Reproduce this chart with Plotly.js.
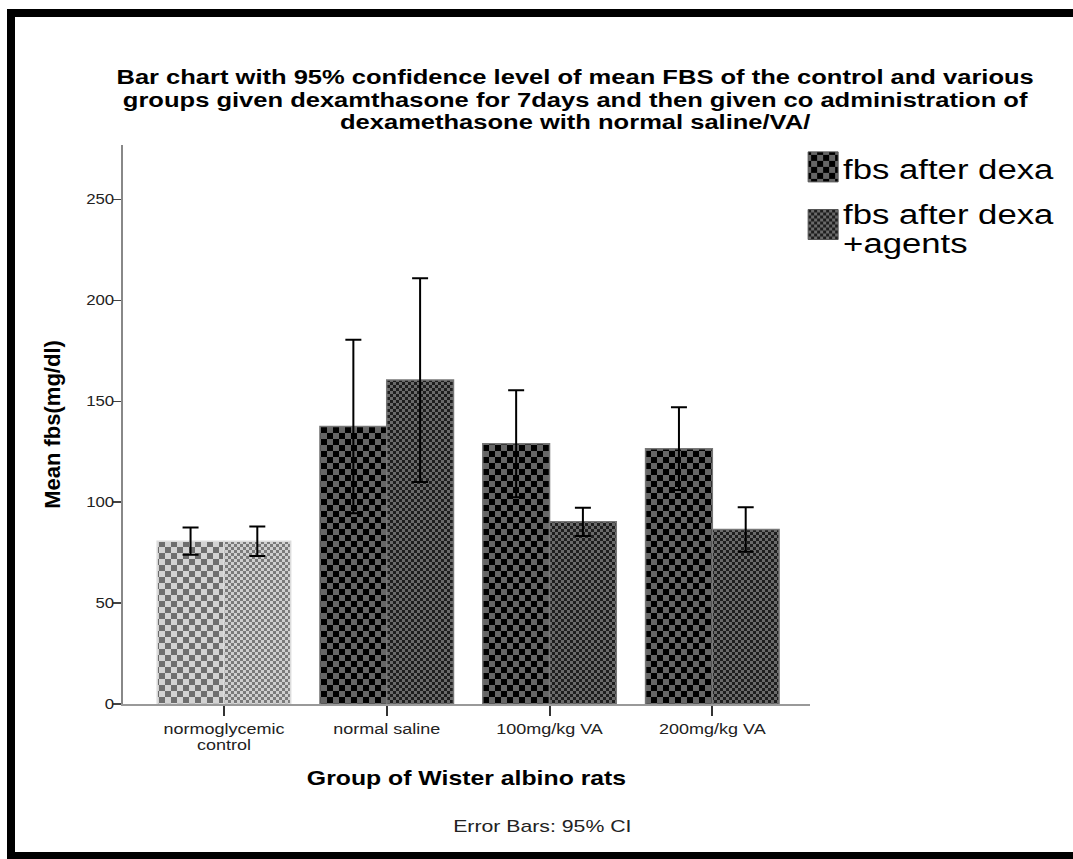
<!DOCTYPE html>
<html>
<head>
<meta charset="utf-8">
<script src="https://cdn.plot.ly/plotly-3.0.1.min.js"></script>
<style>
  html, body { margin: 0; padding: 0; background: #fff; }
  #wrap { position: relative; width: 1073px; height: 859px; overflow: hidden; }
  #chart { position: absolute; left: 0; top: 0; width: 1073px; height: 859px; }
  .frame { position: absolute; background: #000; }
</style>
</head>
<body>
<svg width="0" height="0" style="position:absolute">
  <defs>
    <pattern id="chkDark" patternUnits="userSpaceOnUse" width="12" height="12">
      <rect width="12" height="12" fill="#666"/>
      <rect x="0" y="0" width="6" height="6" fill="#000"/>
      <rect x="6" y="6" width="6" height="6" fill="#000"/>
    </pattern>
    <pattern id="chkDarkFine" patternUnits="userSpaceOnUse" width="6" height="6">
      <rect width="6" height="6" fill="#6a6a6a"/>
      <rect x="0" y="0" width="3" height="3" fill="#1e1e1e"/>
      <rect x="3" y="3" width="3" height="3" fill="#1e1e1e"/>
    </pattern>
    <pattern id="chkLight" patternUnits="userSpaceOnUse" width="12" height="12">
      <rect width="12" height="12" fill="#d2d2d2"/>
      <rect x="0" y="0" width="6" height="6" fill="#6e6e6e"/>
      <rect x="6" y="6" width="6" height="6" fill="#6e6e6e"/>
    </pattern>
    <pattern id="chkLightFine" patternUnits="userSpaceOnUse" width="6" height="6">
      <rect width="6" height="6" fill="#cfcfcf"/>
      <rect x="0" y="0" width="3" height="3" fill="#7a7a7a"/>
      <rect x="3" y="3" width="3" height="3" fill="#7a7a7a"/>
    </pattern>
  </defs>
</svg>
<div id="wrap">
  <div id="chart"></div>
  <div class="frame" style="left:7px; top:9px; width:1066px; height:8px;"></div>
  <div class="frame" style="left:7px; top:9px; width:8px; height:850px;"></div>
  <div class="frame" style="left:7px; top:852px; width:1066px; height:7px;"></div>
</div>
<script>
// ---- data ----
const categories = ['normoglycemic<br>control', 'normal saline', '100mg/kg VA', '200mg/kg VA'];
const seriesNames = ['fbs after dexa', 'fbs after dexa<br>+agents'];
const fbsAfterDexa = [80.7, 137.5, 129.0, 126.5];
const fbsAfterDexaCI = [6.7, 43.0, 26.5, 20.5];
const fbsAfterDexaAgents = [80.6, 160.5, 90.3, 86.5];
const fbsAfterDexaAgentsCI = [7.3, 50.5, 7.0, 11.0];
const yTickVals = [0, 50, 100, 150, 200, 250];

const FONT = 'Liberation Sans, Arial, sans-serif';

const traceDexa = {
  type: 'bar', name: seriesNames[0], x: categories, y: fbsAfterDexa,
  marker: { color: ['#b5b5b5', '#333', '#333', '#333'],
            line: { color: ['#dcdcdc', '#777', '#777', '#777'], width: 1.5 } },
  error_y: { type: 'data', array: fbsAfterDexaCI, visible: true, color: '#000', thickness: 2, width: 8 },
  hoverinfo: 'skip'
};
const traceAgents = {
  type: 'bar', name: seriesNames[1], x: categories, y: fbsAfterDexaAgents,
  marker: { color: ['#a5a5a5', '#444', '#444', '#444'],
            line: { color: ['#dcdcdc', '#777', '#777', '#777'], width: 1.5 } },
  error_y: { type: 'data', array: fbsAfterDexaAgentsCI, visible: true, color: '#000', thickness: 2, width: 8 },
  hoverinfo: 'skip'
};

const layout = {
  width: 1073, height: 859,
  margin: { l: 123, r: 263, t: 145, b: 155 },
  paper_bgcolor: 'rgba(0,0,0,0)', plot_bgcolor: 'rgba(0,0,0,0)',
  barmode: 'group', bargap: 0.18, bargroupgap: 0,
  font: { family: FONT, color: '#222' },
  title: {
    text: 'Bar chart with 95% confidence level of mean FBS of the control and various<br>groups given dexamthasone for 7days and then given co administration of<br>dexamethasone with normal saline/VA/',
    font: { family: FONT, size: 21, color: '#000', weight: 'bold' },
    x: 0.536, xanchor: 'center', xref: 'container',
    y: 0.902, yanchor: 'top', yref: 'container'
  },
  xaxis: {
    type: 'category', range: [-0.62, 3.6],
    showline: true, linecolor: '#999', linewidth: 2,
    ticks: 'outside', ticklen: 10, tickwidth: 2, tickcolor: '#333',
    tickfont: { family: FONT, size: 15, color: '#222' },
    showgrid: false, zeroline: false,
    title: { text: 'Group of Wister albino rats', font: { family: FONT, size: 20, color: '#000', weight: 'bold' }, standoff: 16 }
  },
  yaxis: {
    range: [0, 277], tickvals: yTickVals,
    showline: true, linecolor: '#888', linewidth: 2,
    ticks: 'outside', ticklen: 8, tickwidth: 1.5, tickcolor: '#444',
    tickfont: { family: FONT, size: 14, color: '#222' },
    ticklabelstandoff: -4,
    showgrid: false, zeroline: false,
    title: { text: 'Mean fbs(mg/dl)', font: { family: FONT, size: 22, color: '#000', weight: 'bold' }, standoff: 24 }
  },
  legend: {
    x: 0.99, xanchor: 'left', y: 1.005, yanchor: 'top',
    font: { family: FONT, size: 28, color: '#000' },
    bgcolor: 'rgba(0,0,0,0)', tracegroupgap: 0
  },
  showlegend: true,
  annotations: [{
    text: 'Error Bars: 95% CI', xref: 'paper', yref: 'paper',
    x: 0.61, y: -0.22, xanchor: 'center', yanchor: 'middle', showarrow: false,
    font: { family: FONT, size: 17, color: '#222' }
  }]
};

function stretchText(el, s, dy) {
  if (!el) return;
  const x = parseFloat(el.getAttribute('x') || '0');
  const prev = el.getAttribute('transform') || '';
  el.setAttribute('transform', prev + ' translate(' + x + ',' + (dy || 0) + ') scale(' + s + ',1) translate(' + (-x) + ',0)');
}
function compressLines(el, factor) {
  if (!el) return;
  el.querySelectorAll('tspan.line').forEach(function (t) {
    const dy = t.getAttribute('dy');
    if (dy && /em$/.test(dy)) {
      t.setAttribute('dy', (parseFloat(dy) * factor) + 'em');
    }
  });
}

const gd = document.getElementById('chart');
Plotly.newPlot(gd, [traceDexa, traceAgents], layout, { staticPlot: true, displayModeBar: false }).then(function () {
  const patterns = [
    ['chkLight', 'chkDark', 'chkDark', 'chkDark'],
    ['chkLightFine', 'chkDarkFine', 'chkDarkFine', 'chkDarkFine']
  ];
  gd.querySelectorAll('.barlayer .trace').forEach(function (tr, i) {
    tr.querySelectorAll('.point path').forEach(function (p, j) {
      p.style.fill = 'url(#' + patterns[i][j] + ')';
    });
  });
  const legendPat = ['chkDark', 'chkDarkFine'];
  const legendShift = [1, 7];
  gd.querySelectorAll('.legend .traces').forEach(function (tr, i) {
    tr.querySelectorAll('.legendpoints path').forEach(function (p) {
      p.setAttribute('d', 'M15,15H-15V-15H15Z');
      p.style.fill = 'url(#' + legendPat[i] + ')';
      p.style.stroke = '#555';
      p.style.strokeWidth = '1px';
    });
    const t = tr.querySelector('text.legendtext');
    compressLines(t, 0.8);
    stretchText(t, 1.24, legendShift[i]);
  });
  const sb = gd.querySelector('.legend .scrollbox');
  if (sb) sb.removeAttribute('clip-path');

  const title = gd.querySelector('.gtitle');
  compressLines(title, 1.07 / 1.3);
  stretchText(title, 1.216);

  stretchText(gd.querySelector('.xtitle'), 1.24);
  gd.querySelectorAll('.xtick text').forEach(function (t) { compressLines(t, 0.8); stretchText(t, 1.2); });
  gd.querySelectorAll('.ytick text').forEach(function (t) { stretchText(t, 1.2); });
  gd.querySelectorAll('.annotation-text').forEach(function (t) { stretchText(t, 1.25); });
});
</script>
</body>
</html>
